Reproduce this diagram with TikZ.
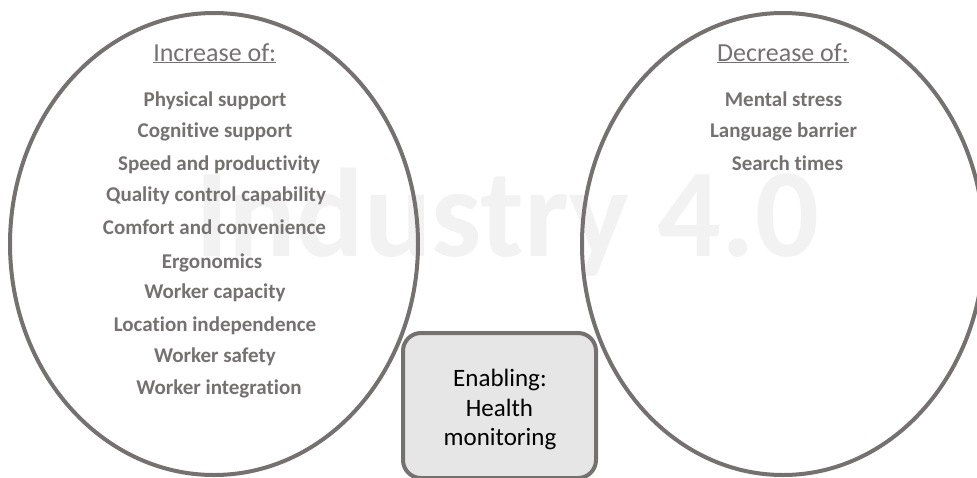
\documentclass[tikz,border=0pt]{standalone}
\usepackage{fontspec}
\setmainfont[RawFeature={-liga}]{Carlito}
\definecolor{txtgray}{HTML}{767171}
\definecolor{linegray}{HTML}{767171}
\definecolor{boxfill}{HTML}{E7E6E6}
\definecolor{wmark}{HTML}{F2F2F2}
\tikzset{
  item/.style={anchor=base, inner sep=0pt, text=txtgray, font=\fontsize{21}{25}\selectfont\bfseries},
  ttl/.style={anchor=base, inner sep=0pt, text=txtgray, font=\fontsize{26}{30}\selectfont},
  oval/.style={draw=linegray, line width=4pt},
  enbox/.style={draw=linegray, line width=4pt, fill=boxfill, rounded corners=18pt},
  boxtxt/.style={anchor=base, inner sep=0pt, text=black, font=\fontsize{25}{29.5}\selectfont},
}
\begin{document}
\begin{tikzpicture}[x=1pt,y=-1pt]
\useasboundingbox (0,0) rectangle (977,477);
\clip (0,0) rectangle (977,477);
\fill[white] (0,0) rectangle (977,477);
% watermark
\node[anchor=base, inner sep=0pt, text=wmark, font=\fontsize{126}{130}\selectfont\bfseries] (wm) at (507,256) {Industry 4.0};
% ellipses
\draw[oval] (214,244) ellipse [x radius=204, y radius=231];
\draw[oval] (783,244) ellipse [x radius=201, y radius=231];
% left texts
\node[ttl] (inc) at (214.7,61) {\underline{Increase of:}};
\node[item] (i1) at (215,106) {Physical support};
\node[item] (i2) at (215,137) {Cognitive support};
\node[item] (i3) at (219,170) {Speed and productivity};
\node[item] (i4) at (216,201.5) {Quality control capability};
\node[item] (i5) at (214.5,234.5) {Comfort and convenience};
\node[item] (i6) at (212,268) {Ergonomics};
\node[item] (i7) at (215,298) {Worker capacity};
\node[item] (i8) at (215,331) {Location independence};
\node[item] (i9) at (215,362.5) {Worker safety};
\node[item] (i10) at (219,394.5) {Worker integration};
% right texts
\node[ttl] (dec) at (783,61) {\underline{Decrease of:}};
\node[item] (d1) at (783.5,106) {Mental stress};
\node[item] (d2) at (783.5,137) {Language barrier};
\node[item] (d3) at (787.5,170) {Search times};
% box
\draw[enbox] (403,333) rectangle (596,478);
\node[boxtxt] (b1) at (500,386) {Enabling:};
\node[boxtxt] (b2) at (499.5,416) {Health};
\node[boxtxt] (b3) at (500,445) {monitoring};
\end{tikzpicture}
\end{document}
